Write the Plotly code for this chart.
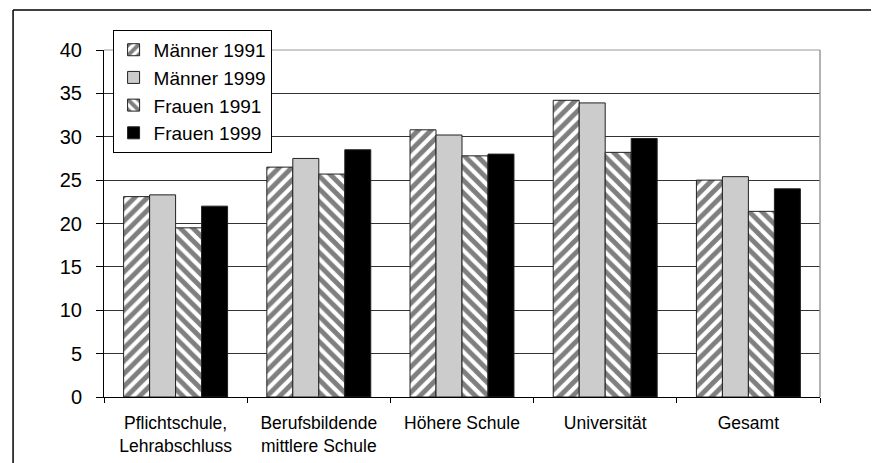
import plotly.graph_objects as go

categories = ["Pflichtschule,<br>Lehrabschluss", "Berufsbildende<br>mittlere Schule",
              "Höhere Schule", "Universität", "Gesamt"]
maenner_1991 = [23.1, 26.5, 30.8, 34.2, 25.0]
maenner_1999 = [23.3, 27.5, 30.2, 33.9, 25.4]
frauen_1991 = [19.5, 25.7, 27.8, 28.2, 21.4]
frauen_1999 = [22.0, 28.5, 28.0, 29.8, 24.0]
y_ticks = [0, 5, 10, 15, 20, 25, 30, 35, 40]

FONT = "Liberation Sans, Arial, Helvetica, sans-serif"
line = dict(color="#222222", width=1)

fig = go.Figure()
fig.add_trace(go.Bar(name="Männer 1991", x=categories, y=maenner_1991, legendgroup="a",
                     marker=dict(color="white", line=line,
                                 pattern=dict(shape="/", fgcolor="black", bgcolor="white",
                                              size=9, solidity=0.55, fillmode="overlay"))))
fig.add_trace(go.Bar(name="Männer 1999", x=categories, y=maenner_1999, legendgroup="b",
                     marker=dict(color="#cccccc", line=line)))
fig.add_trace(go.Bar(name="Frauen 1991", x=categories, y=frauen_1991, legendgroup="c",
                     marker=dict(color="white", line=line,
                                 pattern=dict(shape="\\", fgcolor="black", bgcolor="white",
                                              size=9, solidity=0.55, fillmode="overlay"))))
fig.add_trace(go.Bar(name="Frauen 1999", x=categories, y=frauen_1999, legendgroup="d",
                     marker=dict(color="black", line=line)))

fig.update_layout(
    width=879, height=463,
    margin=dict(l=96, r=67, t=42, b=74, autoexpand=False),
    paper_bgcolor="white", plot_bgcolor="white",
    font=dict(family=FONT, size=19, color="black"),
    barmode="group", bargap=0.274, bargroupgap=0,
    showlegend=True,
    legend=dict(x=0.012, y=1.058, xanchor="left", yanchor="top",
                bgcolor="white", bordercolor="black", borderwidth=1,
                font=dict(family=FONT, size=19, color="black"),
                tracegroupgap=5, traceorder="normal", itemclick=False,
                itemwidth=30),
    xaxis=dict(showline=True, linecolor="black", linewidth=1,
               ticks="outside", tickson="boundaries", ticklen=5, tickcolor="black",
               tickfont=dict(family=FONT, size=17.5), showgrid=False,
               ticklabelstandoff=10),
    yaxis=dict(range=[0, 40], tickvals=y_ticks, showline=True, linecolor="black",
               linewidth=1, ticks="outside", ticklen=7, tickcolor="black",
               showgrid=True, gridcolor="#333333", gridwidth=1, zeroline=False,
               tickfont=dict(family=FONT, size=20), ticklabelstandoff=10),
    shapes=[
        dict(type="line", xref="paper", yref="paper", x0=1, x1=1, y0=0, y1=1,
             line=dict(color="#999999", width=1.5)),
        dict(type="line", xref="paper", yref="paper", x0=0, x1=1, y0=1, y1=1,
             line=dict(color="#999999", width=1)),
        dict(type="line", xref="paper", yref="paper", x0=-0.127, x1=1.2, y0=1.115, y1=1.115,
             line=dict(color="black", width=1.5)),
        dict(type="line", xref="paper", yref="paper", x0=-0.127, x1=-0.127, y0=-0.3, y1=1.115,
             line=dict(color="black", width=1.5)),
    ],
)

fig.write_html("out.html")
